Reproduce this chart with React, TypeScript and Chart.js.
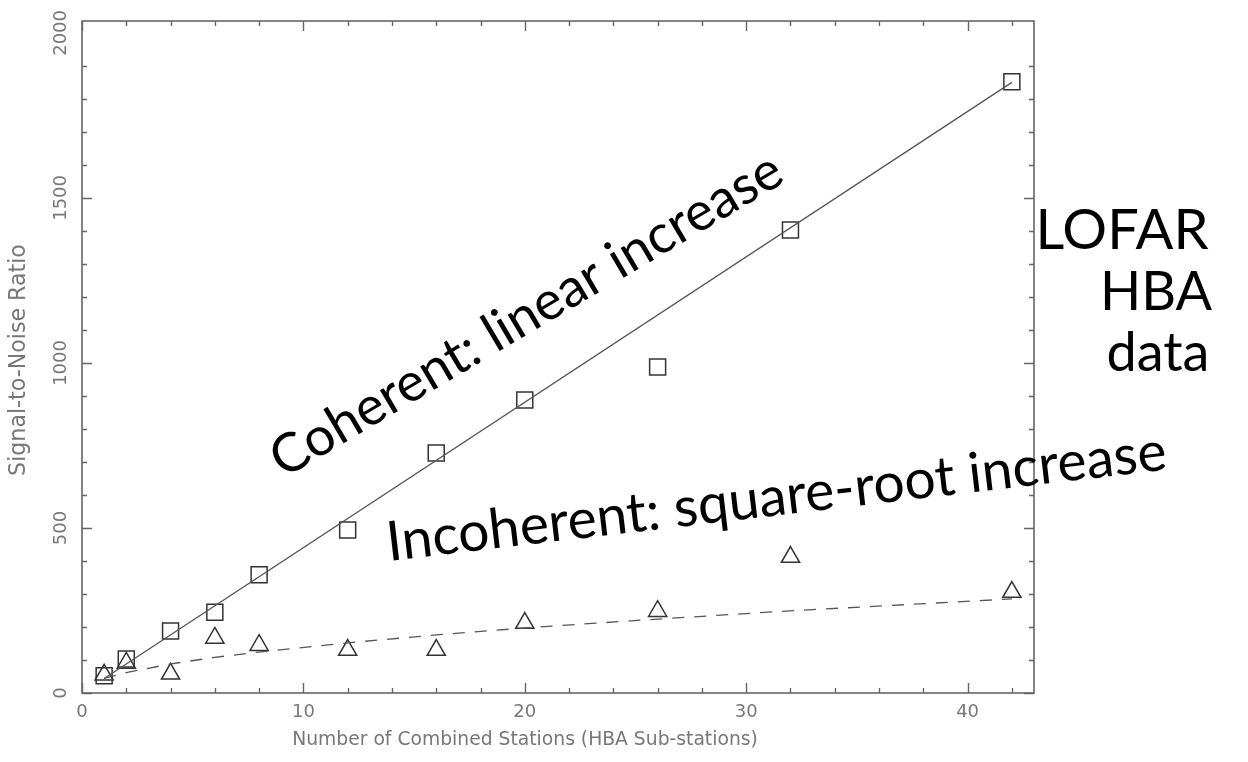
import React, { useEffect, useRef } from "react";
import { Chart, registerables } from "chart.js";

Chart.register(...registerables);

// ---- data ----
const stations = [1, 2, 4, 6, 8, 12, 16, 20, 26, 32, 42];
const coherentSNR = [52, 103, 188, 245, 358, 494, 727, 888, 988, 1403, 1852];
const incoherentSNR = [55, 91, 58, 167, 145, 130, 130, 212, 248, 412, 306];
const linearFitX = [1, 42];
const linearFitY = [44, 1850];
const sqrtFitY = [44, 62, 88, 108, 124, 152, 176, 197, 224, 249, 285];

const xLabelTicks = [0, 10, 20, 30, 40];
const yLabelTicks = [0, 500, 1000, 1500, 2000];

const xTitle = "Number of Combined Stations (HBA Sub-stations)";
const yTitle = "Signal-to-Noise Ratio";
const coherentText = "Coherent: linear increase";
const incoherentText = "Incoherent: square-root increase";
const sideText = ["LOFAR", "HBA", "data"];

const toPts = (xs: number[], ys: number[]) => xs.map((v, i) => ({ x: v, y: ys[i] }));

const AXFONT = "'DejaVu Sans', 'Liberation Sans', sans-serif";
const BIGFONT = "Lato, 'Open Sans', sans-serif";

const framePlugin = {
  id: "framePlugin",
  afterDraw(chart: any) {
    const { ctx, chartArea, scales } = chart;
    const { left, right, top, bottom } = chartArea;
    const xs = scales.x;
    const ys = scales.y;
    ctx.save();
    // frame
    ctx.strokeStyle = "#666";
    ctx.lineWidth = 1.6;
    ctx.strokeRect(left, top, right - left, bottom - top);
    // ticks
    ctx.beginPath();
    xs.ticks.forEach((t: any) => {
      const v = t.value;
      if (v % 2 !== 0 || v > 42) return;
      const px = Math.round(xs.getPixelForValue(v)) + 0.5;
      const len = v % 10 === 0 ? 10 : 5;
      ctx.moveTo(px, bottom);
      ctx.lineTo(px, bottom - len);
      ctx.moveTo(px, top);
      ctx.lineTo(px, top + len);
    });
    ys.ticks.forEach((t: any) => {
      const v = t.value;
      if (v % 100 !== 0 || v > 2000) return;
      const py = Math.round(ys.getPixelForValue(v)) + 0.5;
      const len = v % 500 === 0 ? 10 : 5;
      ctx.moveTo(left, py);
      ctx.lineTo(left + len, py);
      ctx.moveTo(right, py);
      ctx.lineTo(right - len, py);
    });
    ctx.lineWidth = 1.4;
    ctx.stroke();

    // tick labels
    ctx.fillStyle = "#777";
    ctx.font = `18px ${AXFONT}`;
    ctx.textAlign = "center";
    ctx.textBaseline = "middle";
    xLabelTicks.forEach((v) => {
      ctx.fillText(String(v), xs.getPixelForValue(v), bottom + 19);
    });
    yLabelTicks.forEach((v) => {
      ctx.save();
      ctx.translate(left - 21, ys.getPixelForValue(v));
      ctx.rotate(-Math.PI / 2);
      ctx.fillText(String(v), 0, 0);
      ctx.restore();
    });

    // axis titles
    const fitFont = (text: string, width: number) => {
      ctx.font = `16px ${AXFONT}`;
      const w = ctx.measureText(text).width;
      ctx.font = `${(16 * width) / w}px ${AXFONT}`;
    };
    fitFont(xTitle, 466);
    ctx.fillText(xTitle, 525, bottom + 47);
    fitFont(yTitle, 232);
    ctx.save();
    ctx.translate(19, 360);
    ctx.rotate(-Math.PI / 2);
    ctx.fillText(yTitle, 0, 0);
    ctx.restore();

    // annotations
    ctx.fillStyle = "#000";
    const annot = (text: string, xv: number, yv: number, angleDeg: number, width: number) => {
      ctx.font = `40px ${BIGFONT}`;
      const w = ctx.measureText(text).width;
      const size = (40 * width) / w;
      ctx.font = `${size}px ${BIGFONT}`;
      ctx.save();
      ctx.translate(xs.getPixelForValue(xv), ys.getPixelForValue(yv));
      ctx.rotate((angleDeg * Math.PI) / 180);
      ctx.textAlign = "center";
      ctx.textBaseline = "alphabetic";
      ctx.fillText(text, 0, 0);
      ctx.restore();
    };
    annot(coherentText, 20.47, 1100, -30.6, 585);
    annot(incoherentText, 31.46, 539, -6.7, 785);

    ctx.font = `56px ${BIGFONT}`;
    ctx.textAlign = "center";
    ctx.textBaseline = "alphabetic";
    ctx.fillText(sideText[0], 1122, 249);
    ctx.font = `54px ${BIGFONT}`;
    ctx.fillText(sideText[1], 1156, 310);
    ctx.fillText(sideText[2], 1158, 371);
    ctx.restore();
  },
};

export default function App() {
  const ref = useRef<HTMLCanvasElement | null>(null);
  useEffect(() => {
    if (!ref.current) return;
    const chart = new Chart(ref.current, {
      type: "scatter",
      data: {
        datasets: [
          {
            label: "Linear fit",
            data: toPts(linearFitX, linearFitY),
            showLine: true,
            borderColor: "#555",
            borderWidth: 1.3,
            pointRadius: 0,
          },
          {
            label: "Square-root fit",
            data: toPts(stations, sqrtFitY),
            showLine: true,
            borderColor: "#555",
            borderWidth: 1.3,
            borderDash: [12, 10],
            pointRadius: 0,
          },
          {
            label: "Coherent",
            data: toPts(stations, coherentSNR),
            showLine: false,
            pointStyle: "rect",
            pointRadius: 11.3,
            pointBorderColor: "#333",
            pointBackgroundColor: "rgba(0,0,0,0)",
            pointBorderWidth: 1.5,
          },
          {
            label: "Incoherent",
            data: toPts(stations, incoherentSNR),
            showLine: false,
            pointStyle: "triangle",
            pointRadius: 10.5,
            pointBorderColor: "#333",
            pointBackgroundColor: "rgba(0,0,0,0)",
            pointBorderWidth: 1.5,
          },
        ],
      },
      options: {
        responsive: false,
        animation: false,
        events: [],
        layout: { padding: { top: 21, right: 214, left: 0, bottom: 0 } },
        plugins: { legend: { display: false }, tooltip: { enabled: false } },
        scales: {
          x: {
            type: "linear",
            min: 0,
            max: 43,
            ticks: { display: false, stepSize: 2 },
            grid: { display: false, drawTicks: false },
            border: { display: false },
            afterFit: (s: any) => {
              s.height = 69;
            },
          },
          y: {
            type: "linear",
            min: 0,
            max: 2036,
            ticks: { display: false, stepSize: 100 },
            grid: { display: false, drawTicks: false },
            border: { display: false },
            afterFit: (s: any) => {
              s.width = 82;
            },
          },
        },
      },
      plugins: [framePlugin],
    });
    return () => chart.destroy();
  }, []);
  return (
    <div style={{ position: "fixed", left: 0, top: 0, width: 1248, height: 762, background: "#fff" }}>
      <canvas ref={ref} width={1248} height={762} />
    </div>
  );
}
